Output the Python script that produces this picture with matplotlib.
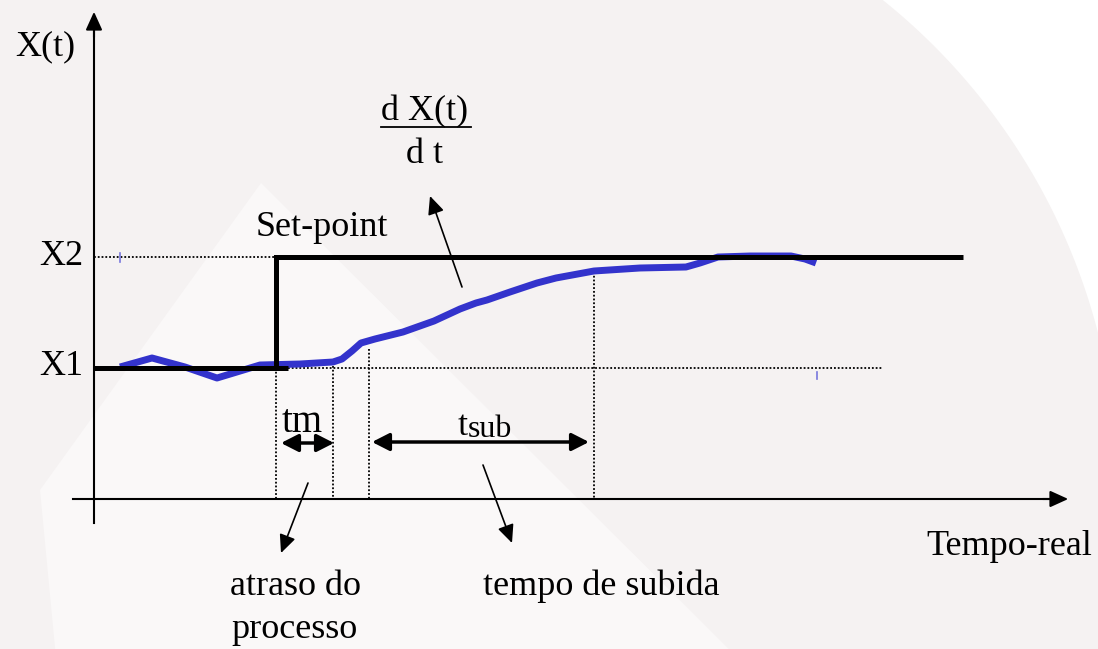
import matplotlib
matplotlib.use("Agg")
import matplotlib.pyplot as plt
import numpy as np
from matplotlib.patches import Polygon, FancyArrowPatch

# diagram coordinates (time to the right, X(t) downwards-inverted like the slide)
X1_LEVEL = 368
X2_LEVEL = 257
t_axis_y = 499
x_axis_x = 94

# set-point step
sp_low_t = [94, 288]
sp_step_t = [276, 276, 963]
sp_step_x = [368, 257, 257]

# process response X(t)
resp_t = [120, 152, 185, 217, 260, 300, 333, 342, 352, 361, 375, 403, 434,
          460, 476, 487, 510, 537, 556, 594, 640, 686, 700, 718, 750, 791, 805, 816]
resp_x = [367, 358, 367, 378, 365, 364, 362, 359, 351, 343, 339, 332, 321,
          309, 303, 300, 292, 283, 278, 271, 268, 267, 263, 257, 256, 256, 259, 263]

# reference guides
t_step = 276
t_delay_end = 333
t_rise_start = 369
t_rise_end = 594

plt.rcParams['font.family'] = ['Liberation Serif', 'DejaVu Serif']

fig = plt.figure(figsize=(10.98, 6.49), dpi=100)
ax = fig.add_axes([0, 0, 1, 1])
ax.set_xlim(0, 1098)
ax.set_ylim(649, 0)
ax.axis('off')
fig.patch.set_facecolor('#f5f2f2')

# faint slide background: white corner outside a big arc, lighter pyramid
ang = np.linspace(np.arctan2(0 - 490, 882 - 490), np.arctan2(333 - 490, 1098 - 490), 60)
arc = np.column_stack([490 + 628 * np.cos(ang), 490 + 628 * np.sin(ang)])
corner = np.vstack([arc, [[1098, 0]]])
ax.add_patch(Polygon(corner, closed=True, facecolor='white', edgecolor='none', zorder=0))
ax.add_patch(Polygon([(261, 183), (780, 700), (60, 700), (40, 490)], closed=True,
                     facecolor='#faf8f8', edgecolor='none', zorder=0.5))

# axes with arrows
ax.plot([x_axis_x, x_axis_x], [523, 24], color='black', lw=1.5, zorder=2)
ax.add_patch(FancyArrowPatch((x_axis_x, 40), (x_axis_x, 9), arrowstyle='-|>,head_length=0.55,head_width=0.25',
                             mutation_scale=20, color='black', lw=1.5, zorder=2))
ax.plot([73, 1058], [t_axis_y, t_axis_y], color='black', lw=1.5, zorder=2)
ax.add_patch(FancyArrowPatch((1040, t_axis_y), (1071, t_axis_y), arrowstyle='-|>,head_length=0.55,head_width=0.25',
                             mutation_scale=20, color='black', lw=1.5, zorder=2))

# dotted guides
dot = dict(color='black', lw=1.3, linestyle=(0, (1, 1.1)), zorder=2)
ax.plot([x_axis_x, t_step], [X2_LEVEL, X2_LEVEL], **dot)
ax.plot([288, 882], [X1_LEVEL, X1_LEVEL], **dot)
ax.plot([t_step, t_step], [X1_LEVEL, t_axis_y], **dot)
ax.plot([t_delay_end, t_delay_end], [366, t_axis_y], **dot)
ax.plot([t_rise_start, t_rise_start], [349, t_axis_y], **dot)
ax.plot([t_rise_end, t_rise_end], [272, t_axis_y], **dot)

# small blue marks
ax.plot([120, 120], [253, 262], color='#7777dd', lw=1.2, zorder=2)
ax.plot([817, 817], [372, 379], color='#7777dd', lw=1.2, zorder=2)

# response and set-point
ax.plot(resp_t, resp_x, color='#3333cc', lw=5, solid_capstyle='butt', zorder=3)
ax.plot(sp_low_t, [X1_LEVEL, X1_LEVEL], color='black', lw=3.6, solid_capstyle='butt', zorder=4)
ax.plot(sp_step_t, sp_step_x, color='black', lw=3.6, solid_capstyle='butt',
        solid_joinstyle='miter', zorder=4)


def arrow(p0, p1, style='-|>', lw=1.2, scale=20, hw=0.25):
    ax.add_patch(FancyArrowPatch(p0, p1, arrowstyle=style + f',head_length=0.55,head_width={hw}',
                                 mutation_scale=scale, color='black', lw=lw,
                                 shrinkA=0, shrinkB=0, zorder=5))


arrow((462, 287), (430, 196))
arrow((308, 483), (281, 553))
arrow((483, 465), (512, 543))
arrow((281, 443), (334, 443), style='<|-|>', lw=2.5, scale=19, hw=0.28)
arrow((372, 442), (589, 442), style='<|-|>', lw=2.5, scale=19, hw=0.28)

# labels
fs = 26
ax.text(15, 55, 'X(t)', fontsize=fs, va='baseline', ha='left')
ax.text(39, 265, 'X2', fontsize=fs, va='baseline', ha='left')
ax.text(39, 375, 'X1', fontsize=fs, va='baseline', ha='left')
ax.text(256, 236, 'Set-point', fontsize=fs, va='baseline', ha='left')
ax.text(425, 120, 'd X(t)', fontsize=fs, va='baseline', ha='center')
ax.plot([381, 471], [127, 127], color='black', lw=1.3)
ax.text(425, 163, 'd t', fontsize=fs, va='baseline', ha='center')
ax.text(302, 432, 'tm', fontsize=28, va='baseline', ha='center')
ax.text(458, 435, 't', fontsize=26, va='baseline', ha='left')
ax.text(468, 437, 'sub', fontsize=23, va='baseline', ha='left')
ax.text(1092, 555, 'Tempo-real', fontsize=fs, va='baseline', ha='right')
ax.text(295, 595, 'atraso do', fontsize=fs, va='baseline', ha='center')
ax.text(295, 638, 'processo', fontsize=fs, va='baseline', ha='center')
ax.text(601, 595, 'tempo de subida', fontsize=fs, va='baseline', ha='center')

fig.savefig('out.png', dpi=100, facecolor=fig.get_facecolor())
